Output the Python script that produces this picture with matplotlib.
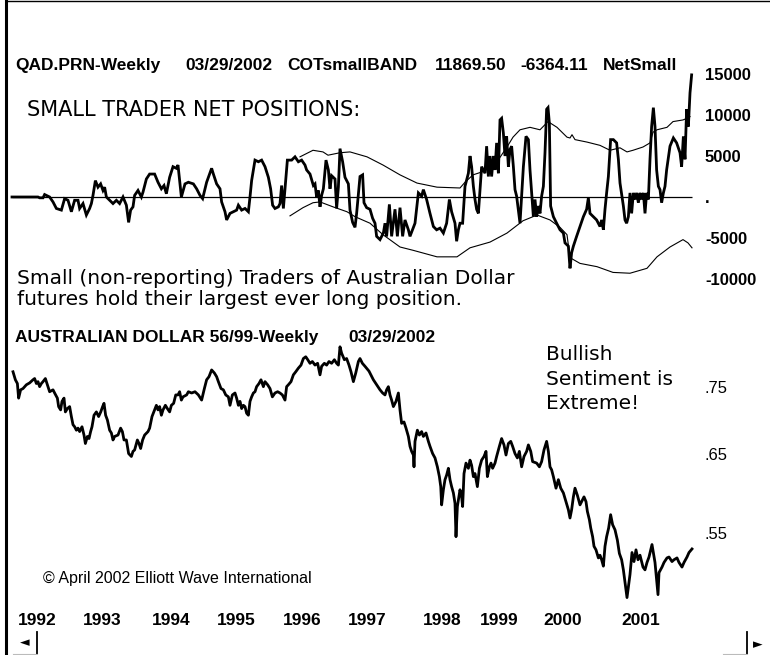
import matplotlib
matplotlib.use('Agg')
import matplotlib.pyplot as plt
from matplotlib.lines import Line2D
from matplotlib.ticker import NullLocator

# ---------------- data ----------------
# x axis: weekly bar index (week 0 = first bar, late 1991)
year_labels = ['1992', '1993', '1994', '1995', '1996', '1997', '1998', '1999', '2000', '2001']
year_week = [5, 57, 111.8, 163.8, 216.6, 269, 329, 374.4, 425, 487.8]

net_week = [0, 20.8, 22.1, 24.8, 26.1, 30.1, 32.8, 35.5, 39.5, 42.1, 44.8, 47.5, 50.1, 52.8, 54.1, 56.8,
            59.5, 62.1, 63.5, 64.8, 66.7, 68.8, 70.9, 72.8, 74.1, 75.5, 78.1, 80.8, 83.5, 86.1, 88.8, 91.5,
            93.3, 94.9, 96.8, 98.1, 100.8, 103.5, 104.8, 107.5, 110.1, 114.1, 116.8, 119.5, 121.6, 123.5,
            126.1, 128.8, 131.5, 132.8, 135.5, 138.4, 141.1, 145.1, 147.7, 150.4, 152.5, 155.7, 159.7,
            161.1, 163.7, 166.4, 167.7, 170.4, 171.7, 174.4, 177.1, 179.7, 181.1, 183.7, 186.4, 189.1,
            190.4, 191.7, 194.4, 197.1, 199.7, 202.4, 205.1, 206.9, 208.5, 210.4, 213.1, 214.4, 215.7,
            217.1, 219.2, 220.3, 223.7, 226.4, 229.1, 231.7, 234.4, 235.7, 238.4, 241.1, 242.4, 243.7,
            245.1, 246.4, 247.7, 249.1, 251.2, 253.1, 254.4, 255.7, 258.4, 259.7, 261.1, 262.4, 264.5,
            266.4, 269.1, 270.4, 272.5, 274.4, 275.7, 278.4, 280.5, 281.6, 283.7, 286.4, 288.5, 290.4,
            291.7, 294.4, 297.1, 298.4, 299.7, 301.9, 303.7, 306.4, 308.3, 310.4, 312.5, 314.4, 317.1,
            318.4, 322.4, 325.1, 327.7, 329.1, 331.7, 334.4, 337.1, 339.7, 342.4, 345.1, 347.7, 349.9,
            351.7, 354.4, 355.7, 357.1, 358.4, 360.5, 362.4, 365.1, 366.4, 367.7, 369.1, 370.4, 371.7,
            373.1, 374.4, 375.7, 377.1, 378.4, 379.7, 381.1, 382.4, 383.7, 385.1, 386.4, 387.7, 389.1,
            390.4, 391.7, 393.1, 394.4, 395.7, 397.1, 398.4, 399.7, 401.1, 402.4, 403.7, 406.4, 407.7,
            409.1, 411.2, 413.1, 414.4, 415.7, 417.1, 418.4, 419.7, 421.1, 422.4, 423.7, 425.1, 426.4,
            427.7, 428.8, 429.9, 430.9, 433.1, 435.7, 438.4, 441.1, 442.4, 445.1, 446.4, 447.7, 449.1,
            451.7, 454.4, 457.1, 459.7, 461.1, 462.4, 465.1, 467.7, 470.4, 471.7, 473.1, 474.4, 475.7,
            477.1, 478.9, 481.1, 483.7, 485.1, 486.4, 489.1, 490.4, 491.7, 493.1, 494.4, 495.7, 497.1,
            498.4, 499.7, 501.1, 502.4, 503.7, 505.1, 506.4, 507.7, 509.1, 510.4, 511.7, 513.1, 514.4,
            515.7, 517.1, 518.4, 519.7, 521.1, 522.4, 523.7, 526.4, 529.1, 531.7, 534.4, 535.7, 537.1,
            538.4, 539.7, 541.1, 542.4, 543.7]
net_small = [0, 0, -100, -100, 300, 0, -600, -1400, -1600, -200, -400, -1800, -400, -400, -1400, -800,
             -2200, -1400, -800, 200, 2000, 1200, 1600, 800, 1200, 0, -400, -800, -400, -800, 0, -1000,
             -3100, -1600, -1200, 200, 800, 0, 600, 2200, 2800, 2800, 1800, 1000, 1400, 400,
             2400, 3700, 3500, 3900, 0, 1600, 1800, 1600, 1000, 200, -200, 1800, 3500,
             2800, 1600, 1000, -600, -1800, -2800, -2000, -1800, -1600, -1000, -1600, -1400, -1800,
             0, 2000, 4500, 4300, 4500, 3700, 2400, 1000, -1000, -1400, -1200, -800, 1400,
             -1400, 2400, 4500, 4500, 4900, 4300, 4500, 3900, 3300, 2800, 1400, 1600, 0,
             800, -1200, 200, 1000, 4500, 3300, 1000, 2600, 2200, -1400, 1200, 5900, 4300,
             2400, 1600, -1600, -3100, -3700, -2000, 2500, 2700, -700, -1300, -1500, -2600, -3200,
             -4800, -5200, -4400, -3200, -4800, -900, -4800, -1500, -4800, -1300, -4800, -2800, -4000,
             -4800, -3200, 500, 100, 900, -300, -2000, -3600, -4000, -3800, -4400, -3200, -300,
             -1800, -3200, -5400, -4000, -3200, -3200, 1300, 2900, 5000, 3700, 1300, -300, -1500,
             -2000, 900, 3700, 3300, 2900, 6200, 2500, 5000, 2500, 5000, 3300, 6600, 2900,
             9400, 9600, 7800, 5000, 7400, 3700, 5800, 6200, 3700, 900, 100, -3200, 100,
             3700, 7400, 7000, 3300, 500, -2400, -300, -2400, -1100, -2000, 100, 1300, 5400,
             10700, 10900, 9000, -1100, -2400, -3200, -4000, -4400, -5600, -6000, -8700, -6800, -6000,
             -4800, -3600, -2400, -1500, -100, -2000, -2400, -2800, -3600, -2800, -4000, -1500, 500,
             2500, 7000, 7000, 6600, 4600, 1700, -1100, -2800, -3200, -2400, 500, -2000, 500,
             -300, 500, -700, 500, -300, 500, -2000, 500, -300, 4600, 8600, 10900, 8600,
             3300, 1300, 900, -700, 500, 1300, 3300, 6200, 7200, 6600, 5400, 3700, 7400,
             4600, 10700, 8600, 12700, 14900]

upper_week = [230.4, 240.8, 248.8, 252.8, 262.4, 270.4, 284, 296.8, 310.4, 324, 340, 358.4, 362.4, 368.8,
              376.8, 388, 396, 400.8, 406.4, 414.4, 422.4, 428.8, 436, 444, 446.4, 448, 450.4, 460,
              470.4, 478.4, 486.4, 492, 496.8, 504.8, 510.4, 512.8, 516, 524, 528.8, 536.8, 540, 542.4]
upper_band = [4900, 5700, 5500, 5100, 5400, 5500, 4900, 3900, 2700, 1700, 1200, 1100, 1800, 2700,
              3100, 4300, 6100, 7300, 8200, 8500, 8200, 9200, 8500, 7300, 7200, 7600, 7000, 6700,
              6300, 5700, 6000, 5500, 5700, 6100, 6600, 7900, 8200, 8500, 9200, 9400, 9600, 9800]

lower_week = [222.4, 232.8, 240.8, 246.4, 256.8, 268, 274.4, 286.4, 296.8, 310.4, 320.8, 340, 356, 366.4,
              382.4, 396, 408.8, 420, 430.4, 438.4, 444, 446.4, 454.4, 468, 480.8, 494.4, 508, 516,
              526.4, 536.8, 540.8, 544]
lower_band = [-2300, -1300, -700, -600, -1200, -1800, -2400, -3200, -4600, -6100, -6500, -7300, -7300, -6200,
              -5500, -4400, -2900, -2200, -2800, -3700, -4600, -7400, -8100, -8500, -9200, -9300, -8700, -7300,
              -6100, -5200, -5600, -6200]

price_week = [0.8, 2.7, 4.3, 5.3, 6.9, 8.8, 11.5, 14.1, 16.8, 18.1, 19.5, 20.8, 22.1, 23.5, 24.8, 26.7,
              28.3, 30.1, 32.8, 34.1, 36.3, 37.3, 38.9, 40.0, 41.6, 42.7, 44.3, 46.1, 47.5, 48.8, 50.1,
              51.5, 52.8, 54.1, 56.0, 57.6, 58.7, 60.3, 61.6, 62.9, 64.0, 65.6, 67.5, 69.3, 71.0, 72.5,
              73.6, 74.9, 76.3, 78.1, 79.5, 80.8, 82.1, 84.8, 86.9, 88.3, 89.6, 91.5, 93.3, 95.5, 96.8,
              98.1, 100.3, 101.6, 102.9, 104.5, 106.1, 108.8, 110.1, 112.0, 114.1, 115.5, 116.8, 118.1,
              119.5, 120.8, 122.7, 124.3, 126.1, 127.5, 129.3, 131.0, 132.8, 134.1, 135.5, 136.8, 139.7,
              141.1, 143.7, 146.4, 149.1, 151.7, 153.9, 155.7, 157.6, 159.7, 161.9, 163.7, 165.1, 167.2,
              169.1, 171.0, 173.1, 174.4, 176.3, 178.4, 179.7, 181.1, 182.4, 183.7, 185.1, 186.4, 187.7,
              189.1, 190.4, 191.7, 193.1, 194.4, 195.7, 197.6, 199.2, 201.1, 202.4, 204.5, 206.4, 208.3,
              210.4, 212.5, 214.4, 216.3, 218.4, 219.7, 221.1, 223.2, 225.1, 227.0, 229.1, 231.2, 233.1,
              235.0, 236.6, 238.4, 240.3, 242.4, 244.5, 246.4, 247.7, 249.9, 251.7, 253.6, 255.7, 257.9,
              259.7, 261.1, 262.4, 263.7, 265.9, 267.7, 269.6, 271.2, 273.1, 275.0, 277.1, 278.4, 280.3,
              282.4, 285.6, 289.1, 291.7, 294.4, 296.5, 298.4, 299.7, 301.1, 302.4, 303.7, 305.1, 307.2,
              309.1, 310.4, 311.7, 313.6, 315.2, 317.1, 318.4, 319.7, 321.1, 321.6, 322.4, 324.3, 325.9,
              327.7, 329.1, 331.2, 333.1, 334.4, 336.5, 338.4, 340.3, 341.9, 343.0, 343.7, 345.1, 346.4,
              347.7, 349.1, 350.4, 351.7, 353.1, 354.4, 355.2, 356.3, 357.1, 358.4, 359.7, 360.5, 361.6,
              363.2, 365.1, 366.4, 367.7, 369.1, 370.4, 372.3, 373.9, 375.7, 377.6, 379.2, 380.3, 381.9,
              383.2, 384.5, 386.4, 387.7, 389.9, 391.7, 393.6, 395.2, 397.1, 399.0, 400.5, 402.4, 404.3,
              405.9, 407.7, 409.6, 411.7, 413.1, 415.0, 416.5, 419.7, 421.9, 423.7, 425.6, 427.7, 429.1,
              430.4, 431.7, 433.1, 435.2, 437.1, 439.0, 441.1, 443.2, 445.1, 446.4, 447.7, 449.1, 450.4,
              452.3, 454.4, 455.7, 457.6, 459.2, 460.3, 461.9, 463.0, 464.5, 465.6, 467.2, 469.1, 470.4,
              471.7, 473.1, 474.4, 475.7, 477.3, 478.9, 480.5, 482.4, 484.3, 485.9, 487.7, 489.1, 492.0,
              494.4, 496.0, 497.6, 499.2, 500.8, 502.4, 504.8, 506.4, 508.0, 509.6, 512.0, 514.4, 516.8,
              517.6, 520.0, 521.6, 524.0, 525.6, 528.0, 529.6, 532.0, 533.6, 536.0, 537.6, 540.0, 541.6,
              544.0]
aud_price = [.774, .761, .755, .732, .745, .747, .753, .756, .761, .763, .755, .758, .750, .755, .758, .763,
             .753, .742, .745, .740, .732, .719, .714, .727, .732, .711, .716, .719, .704, .692, .689,
             .684, .687, .682, .689, .677, .665, .675, .672, .682, .689, .706, .711, .704, .711, .719,
             .724, .706, .699, .684, .680, .670, .675, .677, .687, .682, .670, .670, .651, .647, .654,
             .656, .670, .665, .658, .670, .677, .682, .687, .704, .714, .721, .714, .719,
             .706, .714, .721, .716, .711, .721, .724, .737, .737, .742, .729, .734, .737,
             .742, .740, .742, .737, .729, .747, .761, .766, .777, .772, .766, .758, .747,
             .745, .737, .734, .721, .737, .740, .732, .721, .727, .716, .721, .719, .709,
             .706, .727, .734, .740, .742, .750, .755, .761, .750, .758, .753, .747, .734,
             .740, .742, .740, .737, .729, .750, .753, .758, .769, .774, .780, .785, .796,
             .799, .794, .788, .791, .785, .788, .769, .783, .788, .785, .791, .788, .794,
             .788, .785, .816, .805, .794, .796, .785, .774, .758, .772, .791, .796, .788,
             .783, .775, .761, .753, .745, .740, .737, .745, .750, .737, .729, .719, .727,
             .740, .714, .694, .696, .687, .675, .661, .654, .649, .633, .668, .684, .677,
             .682, .675, .680, .668, .661, .651, .645, .633, .620, .607, .584, .603, .616,
             .622, .631, .616, .607, .599, .586, .546, .582, .590, .603, .594, .582, .624,
             .638, .631, .642, .635, .620, .624, .607, .631, .642, .647, .654, .620, .633,
             .638, .631, .638, .647, .661, .672, .663, .649, .665, .668, .661, .651, .645,
             .654, .633, .647, .654, .663, .654, .640, .638, .633, .640, .656, .668, .654,
             .633, .629, .620, .605, .616, .605, .599, .588, .578, .568, .578, .594, .605,
             .596, .584, .588, .594, .588, .576, .566, .556, .546, .535, .531, .522, .525,
             .520, .513, .535, .546, .556, .572, .560, .554, .542, .527, .520, .509, .480,
             .504, .528, .518, .531, .520, .525, .512, .509, .517, .523, .537, .517, .483,
             .506, .512, .517, .522, .523, .518, .520, .522, .517, .512, .517, .523, .528,
             .532]

net_ticks = [15000, 10000, 5000, 0, -5000, -10000]
net_tick_labels = ['15000', '10000', '5000', '.', '-5000', '-10000']
price_ticks = [0.75, 0.65, 0.55]
price_tick_labels = ['.75', '.65', '.55']

# ---------------- figure ----------------
W, H = 770, 655
fig = plt.figure(figsize=(W / 100, H / 100), dpi=100)
fig.patch.set_facecolor('white')


def fx(x):
    return x / W


def fy(y):
    return 1 - y / H


def axes_px(x0, y0, x1, y1):
    a = fig.add_axes([fx(x0), fy(y1), (x1 - x0) / W, (y1 - y0) / H])
    a.patch.set_visible(False)
    for s in a.spines.values():
        s.set_visible(False)
    return a


ARIAL = 'Liberation Sans'
VERD = 'DejaVu Sans'

# upper panel: small trader net positions
ax1 = axes_px(10, 50, 700, 300)
ax1.hlines(0, net_week[0], net_week[-1], color='black', lw=0.9)
ax1.plot(upper_week, upper_band, color='black', lw=0.8)
ax1.plot(lower_week, lower_band, color='black', lw=0.8)
ax1.plot(net_week, net_small, color='black', lw=2.0, solid_joinstyle='miter')
ax1.set_xlim(-1.6, 550.4)
ax1.set_ylim(-12566, 17934)
ax1.set_xticks([])
ax1.yaxis.tick_right()
ax1.set_yticks(net_ticks)
ax1.set_yticklabels(net_tick_labels, fontfamily=ARIAL, fontweight='bold', fontsize=12)
ax1.tick_params(axis='y', length=0, pad=3.6)

# lower panel: Australian dollar
ax2 = axes_px(10, 340, 700, 605)
ax2.plot(price_week, aud_price, color='black', lw=2.0)
ax2.set_yscale('log')
ax2.set_xlim(-1.6, 550.4)
ax2.set_ylim(0.47251, 0.82783)
ax2.yaxis.tick_right()
ax2.yaxis.set_minor_locator(NullLocator())
ax2.set_yticks(price_ticks)
ax2.set_yticklabels(price_tick_labels, fontfamily=ARIAL, fontsize=12)
ax2.tick_params(axis='y', length=0, pad=3.6)
ax2.set_xticks(year_week)
ax2.set_xticklabels(year_labels, ha='left', fontfamily=ARIAL, fontweight='bold', fontsize=12.5)
ax2.tick_params(axis='x', length=0, pad=6)
ax2.xaxis.set_minor_locator(NullLocator())


def ptext(x, y, s, **kw):
    fig.text(fx(x), fy(y), s, ha='left', va='baseline', color='black', **kw)


# header line
hdr = dict(fontfamily=ARIAL, fontweight='bold', fontsize=12.5)
ptext(15, 70, 'QAD.PRN-Weekly', **hdr)
ptext(185, 70, '03/29/2002', **hdr)
ptext(287, 70, 'COTsmallBAND', **hdr)
ptext(435, 70, '11869.50', **hdr)
ptext(520, 70, '-6364.11', **hdr)
ptext(603, 70, 'NetSmall', **hdr)

ptext(27, 116, 'SMALL TRADER NET POSITIONS:', fontfamily=VERD, fontsize=15)
ptext(17, 284.5, 'Small (non-reporting) Traders of Australian Dollar', fontfamily=VERD, fontsize=14.5)
ptext(17, 305, 'futures hold their largest ever long position.', fontfamily=VERD, fontsize=14.5)

ptext(15, 341.7, 'AUSTRALIAN DOLLAR 56/99-Weekly', **hdr)
ptext(348, 341.7, '03/29/2002', **hdr)

ptext(546, 360, 'Bullish', fontfamily=VERD, fontsize=14.5)
ptext(546, 385, 'Sentiment is', fontfamily=VERD, fontsize=14.5)
ptext(546, 409.3, 'Extreme!', fontfamily=VERD, fontsize=14.5)

ptext(42.7, 583.3, '\u00a9 April 2002 Elliott Wave International', fontfamily=ARIAL, fontsize=11.5)


# frame and scroll bar decorations
def pline(xs, ys, **kw):
    fig.add_artist(Line2D([fx(v) for v in xs], [fy(v) for v in ys], transform=fig.transFigure, **kw))


pline([6.5, 6.5], [0, 655], color='black', lw=2.2)
pline([6, 770], [0.6, 0.6], color='black', lw=1.0)
pline([36.5, 36.5], [632, 655], color='black', lw=1.3)
pline([13, 36.5], [653.5, 653.5], color='#bbbbbb', lw=0.8)
pline([747, 747], [632, 655], color='black', lw=1.3)
pline([723, 747], [653.5, 653.5], color='#bbbbbb', lw=0.8)
fig.text(fx(24.5), fy(643), '\u25c4', ha='center', va='center', fontfamily=VERD, fontsize=9)
fig.text(fx(758), fy(645), '\u25ba', ha='center', va='center', fontfamily=VERD, fontsize=9)

fig.savefig('out.png', dpi=100, facecolor='white')
